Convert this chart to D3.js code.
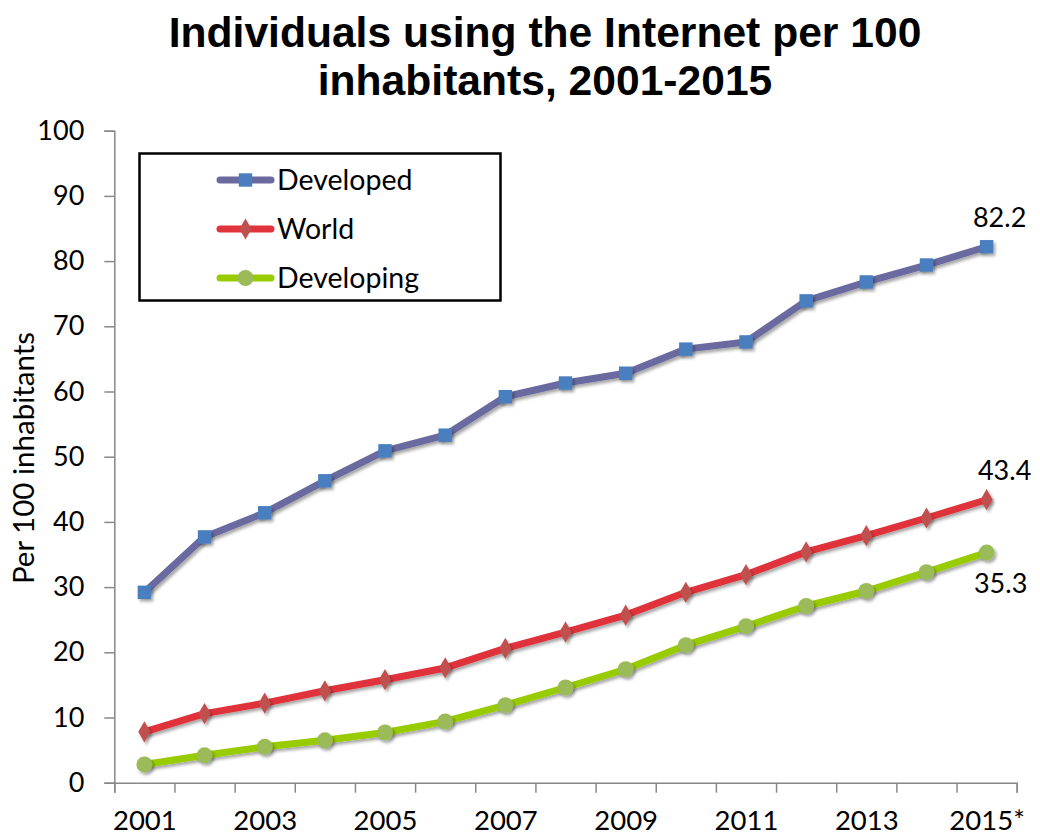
<!DOCTYPE html>
<html><head><meta charset="utf-8">
<script src="https://cdn.jsdelivr.net/npm/d3@7"></script>
<style>
body{margin:0;background:#fff;}
svg{display:block;}
</style></head>
<body>
<svg id="chart" width="1040" height="837"></svg>
<script>
const years = [2001,2002,2003,2004,2005,2006,2007,2008,2009,2010,2011,2012,2013,2014,2015];
const xLabelYears = [2001,2003,2005,2007,2009,2011,2013,2015];
const xLabels = ["2001","2003","2005","2007","2009","2011","2013","2015*"];
const yTicks = [0,10,20,30,40,50,60,70,80,90,100];
const developed = [29.2,37.7,41.4,46.3,50.9,53.3,59.2,61.3,62.8,66.5,67.6,73.9,76.8,79.4,82.2];
const world = [7.8,10.6,12.2,14.1,15.8,17.6,20.6,23.1,25.7,29.2,31.9,35.4,37.9,40.6,43.4];
const developing = [2.8,4.2,5.5,6.5,7.7,9.4,11.9,14.6,17.4,21.1,24.0,27.1,29.4,32.3,35.3];
const seriesNames = ["Developed","World","Developing"];
const titleLines = ["Individuals using the Internet per 100","inhabitants, 2001-2015"];
const yTitle = "Per 100 inhabitants";

const svg = d3.select("#chart");
const defs = svg.append("defs");
const f = defs.append("filter").attr("id","sh").attr("x","-50%").attr("y","-50%").attr("width","200%").attr("height","200%");
f.append("feDropShadow").attr("dx",2).attr("dy",2.5).attr("stdDeviation",1.6).attr("flood-color","#000").attr("flood-opacity",0.35);

const mLeft = 114.3, mRight = 1016.7, mTop = 130.7, mBottom = 782.7;
const x = d3.scaleLinear().domain([2000.5, 2015.5]).range([mLeft, mRight]);
const y = d3.scaleLinear().domain([0, 100]).range([mBottom, mTop]);

// title
svg.append("g").selectAll("text").data(titleLines).join("text")
  .attr("x", 545).attr("y", (d,i) => 47 + i*48)
  .attr("text-anchor","middle")
  .attr("font-family","'Liberation Sans', Arial, sans-serif")
  .attr("font-weight","bold").attr("font-size", 42.6)
  .attr("fill","#000").text(d => d);

// y axis
const gy = svg.append("g").attr("transform", `translate(${mLeft},0)`)
  .call(d3.axisLeft(y).tickValues(yTicks).tickSize(10).tickPadding(20).tickFormat(d3.format("d")));
gy.select(".domain").attr("stroke","#888").attr("stroke-width",1.5);
gy.selectAll(".tick line").attr("stroke","#888").attr("stroke-width",1.5);
gy.selectAll("text").attr("font-family","Lato, 'Open Sans', sans-serif").attr("font-size",27).attr("fill","#000");

// x axis (boundary ticks)
const bounds = d3.range(0, years.length + 1).map(i => 2000.5 + i);
const gx = svg.append("g").attr("transform", `translate(0,${mBottom})`)
  .call(d3.axisBottom(x).tickValues(bounds).tickSize(10).tickFormat(""));
gx.select(".domain").attr("stroke","#888").attr("stroke-width",1.5);
gx.selectAll(".tick line").attr("stroke","#888").attr("stroke-width",1.5);

const gxl = svg.append("g").attr("transform", `translate(0,${mBottom})`)
  .call(d3.axisBottom(x).tickValues(xLabelYears).tickSize(0).tickPadding(28)
    .tickFormat((d,i) => xLabels[i]));
gxl.select(".domain").remove();
gxl.selectAll("text").attr("font-family","Lato, 'Open Sans', sans-serif").attr("font-size",27.5).attr("fill","#000");

// y title
svg.append("text")
  .attr("transform", `translate(34,458) rotate(-90)`)
  .attr("text-anchor","middle")
  .attr("font-family","Lato, 'Open Sans', sans-serif").attr("font-size",29.5)
  .attr("fill","#000").text(yTitle);

const series = [
  {name: seriesNames[0], values: developed, line: "#6a6aa0", mark: "#4a7ebf", shape: "square"},
  {name: seriesNames[1], values: world, line: "#e0333b", mark: "#c0504d", shape: "diamond"},
  {name: seriesNames[2], values: developing, line: "#99cc00", mark: "#9bbb59", shape: "circle"}
];
const lineGen = d3.line().x((d,i) => x(years[i])).y(d => y(d));
const sym = {square: d3.symbolSquare, diamond: d3.symbolDiamond, circle: d3.symbolCircle};
const symSize = {square: 180, diamond: 130, circle: 200};

series.forEach(s => {
  svg.append("path").datum(s.values).attr("d", lineGen)
    .attr("fill","none").attr("stroke", s.line).attr("stroke-width",7)
    .attr("stroke-linejoin","round").attr("stroke-linecap","round")
    .attr("filter","url(#sh)");
  svg.append("g").selectAll("path").data(s.values).join("path")
    .attr("transform",(d,i) => `translate(${x(years[i])},${y(d)})`)
    .attr("d", d3.symbol().type(sym[s.shape]).size(symSize[s.shape]))
    .attr("fill", s.mark).attr("filter","url(#sh)");
});

// end labels
const endLabels = [
  {v: developed[14], dx: 13, dy: -20},
  {v: world[14], dx: 18, dy: -20},
  {v: developing[14], dx: 14, dy: 40}
];
svg.append("g").selectAll("text").data(endLabels).join("text")
  .attr("x", d => x(2015) + d.dx).attr("y", d => y(d.v) + d.dy)
  .attr("text-anchor","middle")
  .attr("font-family","Lato, 'Open Sans', sans-serif").attr("font-size",27)
  .attr("fill","#000").text(d => d.v.toFixed(1));

// legend
const lg = svg.append("g");
lg.append("rect").attr("x",139.5).attr("y",153.5).attr("width",361).attr("height",147)
  .attr("fill","#fff").attr("stroke","#000").attr("stroke-width",2.5);
series.forEach((s,i) => {
  const cy = 180 + i*49;
  lg.append("line").attr("x1",220).attr("x2",271).attr("y1",cy).attr("y2",cy)
    .attr("stroke", s.line).attr("stroke-width",7).attr("stroke-linecap","round");
  lg.append("path").attr("transform",`translate(245.5,${cy})`)
    .attr("d", d3.symbol().type(sym[s.shape]).size(symSize[s.shape]))
    .attr("fill", s.mark);
  lg.append("text").attr("x",277).attr("y",cy + 10)
    .attr("font-family","Lato, 'Open Sans', sans-serif").attr("font-size",28.5)
    .attr("fill","#000").text(s.name);
});
</script>
</body></html>
